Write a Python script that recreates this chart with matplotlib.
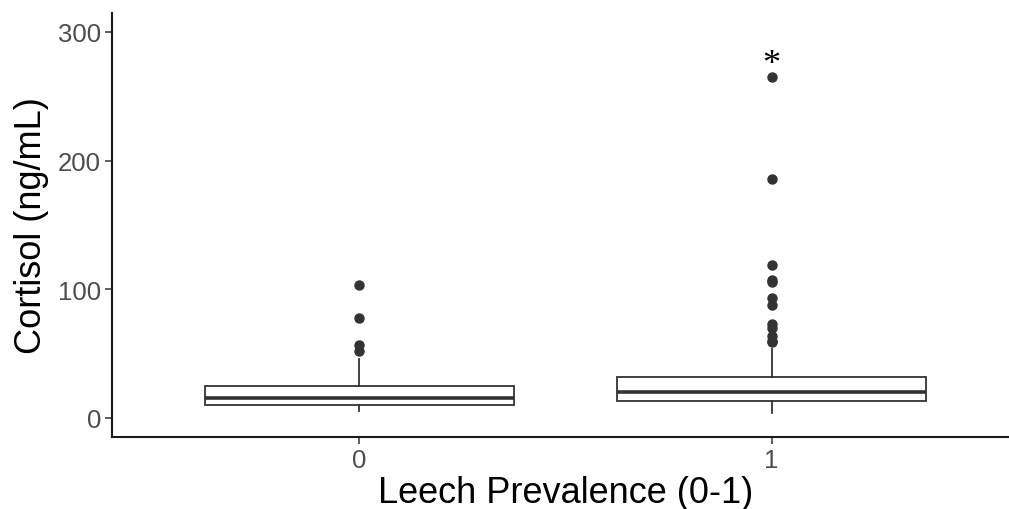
import matplotlib
matplotlib.use("Agg")
import matplotlib.pyplot as plt

# values (ng/mL)
groups = ["0", "1"]
q1 = [10.1, 13.2]
med = [15.5, 20.2]
q3 = [24.9, 31.9]
whislo = [5.4, 3.9]
whishi = [45.8, 53.6]
outliers = [
    [103.3, 77.7, 56.7, 52.3],
    [265.0, 185.7, 119.1, 107.4, 105.9, 93.0, 87.8, 73.0, 69.7, 63.9, 60.0, 58.8],
]
star_y = 275

plt.rcParams["font.family"] = ["Liberation Sans", "DejaVu Sans"]

fig = plt.figure(figsize=(10.09, 5.10), dpi=100)
# the plot panel runs a little past the right edge of the picture
ax = fig.add_axes([112 / 1009, 72 / 510, 907 / 1009, 424 / 510])

stats = []
for i, g in enumerate(groups):
    stats.append(dict(label=g, q1=q1[i], med=med[i], q3=q3[i],
                      whislo=whislo[i], whishi=whishi[i], fliers=outliers[i]))

ax.bxp(stats, positions=range(len(groups)), widths=0.75, showcaps=False,
       patch_artist=True,
       boxprops=dict(facecolor="white", edgecolor="#333333", linewidth=1.3),
       medianprops=dict(color="#333333", linewidth=2.6),
       whiskerprops=dict(color="#333333", linewidth=1.3),
       flierprops=dict(marker="o", markerfacecolor="#333333", markeredgecolor="#333333",
                       markersize=6.5, linestyle="none"))

ax.text(1, star_y, "*", ha="center", va="center", fontsize=26, color="black",
        family=["Liberation Serif", "DejaVu Serif"])

ax.set_xlim(-0.6, 1.6)
ax.set_ylim(-14.8, 314.7)
ax.set_yticks([0, 100, 200, 300])
ax.set_xticks(range(len(groups)))
ax.set_xticklabels(groups)

for s in ["top", "right"]:
    ax.spines[s].set_visible(False)
for s in ["left", "bottom"]:
    ax.spines[s].set_color("#1a1a1a")
    ax.spines[s].set_linewidth(1.5)
ax.tick_params(colors="#333333", labelcolor="#4D4D4D", labelsize=18.5, length=5, width=1.1, pad=3)

ax.set_xlabel("Leech Prevalence (0-1)", fontsize=26, labelpad=2)
ax.set_ylabel("Cortisol (ng/mL)", fontsize=26, labelpad=6)

fig.savefig("out.png", dpi=100)
